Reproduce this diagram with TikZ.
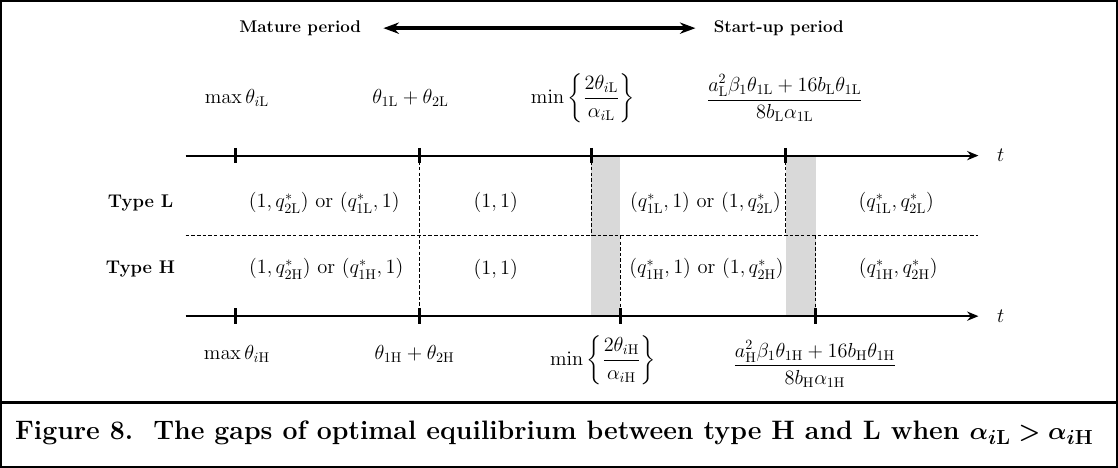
\documentclass[tikz,border=0pt]{standalone}
\usepackage{amsmath,amssymb}
\usepackage{bm}
\usepackage{xcolor}
\usepackage{tikz}
\usetikzlibrary{positioning,arrows.meta}
\definecolor{gapgrey}{RGB}{217,217,217}
\newcommand{\subL}{\mathrm{L}}
\newcommand{\subH}{\mathrm{H}}

\begin{document}
\begin{tikzpicture}[
    x=0.025cm, y=-0.025cm,
    axis/.style={
        line width=1.4pt,
        -{Stealth[length=8pt,width=6.5pt]}
    },
    tickbar/.style={line width=2.2pt},
    guide/.style={line width=0.6pt, dash pattern=on 2.5pt off 1.5pt},
    lbl/.style={font=\fontsize{14.5}{17}\selectfont, inner sep=1pt},
    side/.style={font=\fontsize{13}{15}\selectfont\bfseries, inner sep=1pt},
    period/.style={font=\fontsize{12}{14}\selectfont\bfseries, inner sep=0pt},
    >=Stealth
]

% frame and caption rule
\draw[line width=1.5pt] (3,3) rectangle (1115,467);
\draw[line width=1.5pt] (3,403) -- (1115,403);

% grey gaps
\fill[gapgrey] (591,157) rectangle (620,317);
\fill[gapgrey] (785,157) rectangle (815,317);

% axes
\coordinate (upS) at (187,157);
\coordinate (upE) at (977,157);
\coordinate (loS) at (187,317);
\coordinate (loE) at (977,317);
\coordinate (midS) at (187,237);
\coordinate (midE) at (977,237);

\coordinate (uA) at (237,157);
\coordinate (uB) at (420,157);
\coordinate (uC) at (591,157);
\coordinate (uD) at (785,157);
\coordinate (lA) at (237,317);
\coordinate (lB) at (420,317);
\coordinate (lC) at (620,317);
\coordinate (lD) at (815,317);

\draw[guide] (midS) -- (midE);
\draw[guide] (uB) -- (lB);
\draw[guide] (uC) -- (uC |- midS);
\draw[guide] (lC |- midS) -- (lC);
\draw[guide] (uD) -- (uD |- midS);
\draw[guide] (lD |- midS) -- (lD);

\draw[axis] (upS) -- (upE);
\draw[axis] (loS) -- (loE);
\foreach \p in {uA,uB,uC,uD,lA,lB,lC,lD}
    \draw[tickbar] ([yshift=5.5pt]\p) -- ([yshift=-5.5pt]\p);

\node[lbl, right=12pt of upE] (upT) {$t$};
\node[lbl, right=12pt of loE] (loT) {$t$};

% periods
\node[period, anchor=east] (mature) at (362,30) {Mature period};
\node[period, anchor=west] (startup) at (713,30) {Start-up period};
\draw[{Stealth[length=11pt,width=8pt]}-{Stealth[length=11pt,width=8pt]},
    line width=2.4pt, shorten <=0.55cm, shorten >=0.45cm] (mature) -- (startup);

% thresholds, type L
\node[lbl] (maxL) at (238,100) {$\max\theta_{i\subL}$};
\node[lbl] (sumL) at (411,100) {$\theta_{1\subL}+\theta_{2\subL}$};
\node[lbl] (minL) at (583,100) {$\min\left\{\dfrac{2\theta_{i\subL}}{\alpha_{i\subL}}\right\}$};
\node[lbl] (fracL) at (784,100) {$\dfrac{a_{\subL}^2\beta_1\theta_{1\subL}+16b_{\subL}\theta_{1\subL}}{8b_{\subL}\alpha_{1\subL}}$};

% thresholds, type H
\node[lbl] (maxH) at (238,355) {$\max\theta_{i\subH}$};
\node[lbl] (sumH) at (415,355) {$\theta_{1\subH}+\theta_{2\subH}$};
\node[lbl] (minH) at (603,361) {$\min\left\{\dfrac{2\theta_{i\subH}}{\alpha_{i\subH}}\right\}$};
\node[lbl] (fracH) at (814,365) {$\dfrac{a_{\subH}^2\beta_1\theta_{1\subH}+16b_{\subH}\theta_{1\subH}}{8b_{\subH}\alpha_{1\subH}}$};

% rows
\node[side] (typeL) at (142,204) {Type L};
\node[side] (typeH) at (142,270) {Type H};

\node[lbl] (rL1) at (325,204) {$(1,q^*_{2\subL})$ or $(q^*_{1\subL},1)$};
\node[lbl] (rL2) at (496,204) {$(1,1)$};
\node[lbl] (rL3) at (705,204) {$(q^*_{1\subL},1)$ or $(1,q^*_{2\subL})$};
\node[lbl] (rL4) at (895,204) {$(q^*_{1\subL},q^*_{2\subL})$};

\node[lbl] (rH1) at (327,270) {$(1,q^*_{2\subH})$ or $(q^*_{1\subH},1)$};
\node[lbl] (rH2) at (496,270) {$(1,1)$};
\node[lbl] (rH3) at (706,270) {$(q^*_{1\subH},1)$ or $(1,q^*_{2\subH})$};
\node[lbl] (rH4) at (897,270) {$(q^*_{1\subH},q^*_{2\subH})$};

% caption
\node[anchor=west, font=\fontsize{18.9}{22}\selectfont\bfseries] (caption) at (12,433)
    {Figure 8.\ \ The gaps of optimal equilibrium between type H and L when {\boldmath$\alpha_{i\mathrm{L}}>\alpha_{i\mathrm{H}}$}};
\end{tikzpicture}
\end{document}
